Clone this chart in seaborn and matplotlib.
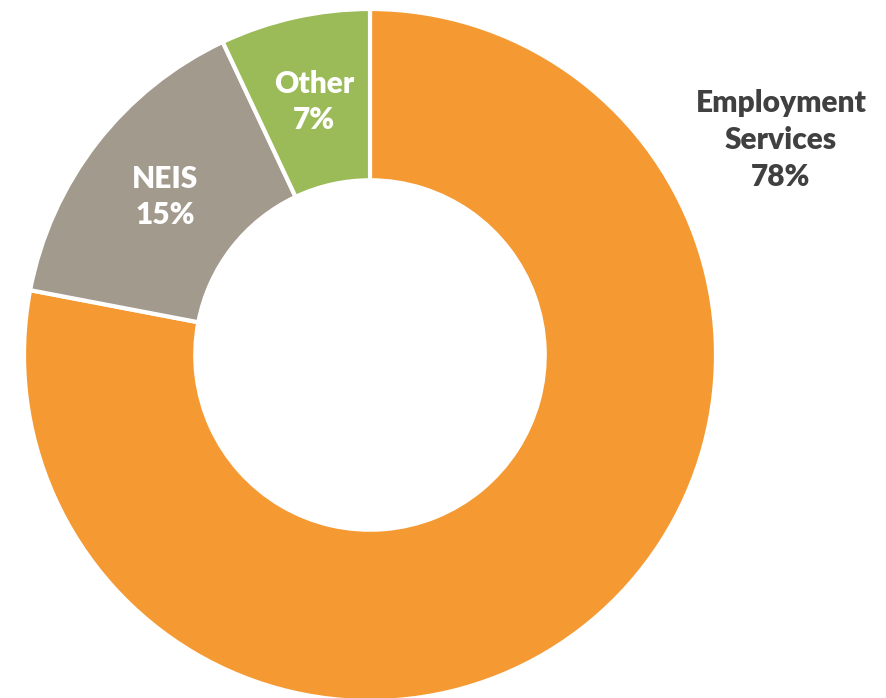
import matplotlib
matplotlib.use("Agg")
import matplotlib.pyplot as plt
import seaborn as sns

categories = ["Employment Services", "NEIS", "Other"]
values = [78, 15, 7]
label_lines = ["Employment\nServices\n78%", "NEIS\n15%", "Other\n7%"]
colors = ["#F59A33", "#A39A8E", "#9BBB59"]

sns.set_theme(style="white")
plt.rcParams["font.family"] = ["Lato", "DejaVu Sans"]

W, H = 886, 698
fig = plt.figure(figsize=(W / 100, H / 100), dpi=100)
ax = fig.add_axes([0, 0, 1, 1])
cx, cy, R = 370, H - 355, 346
wedges, _ = ax.pie(values, colors=colors, startangle=90, counterclock=False,
                   center=(cx, cy), radius=R,
                   wedgeprops=dict(width=R * 0.495, edgecolor="white", linewidth=3))
ax.set_xlim(0, W)
ax.set_ylim(0, H)
ax.set_aspect("equal")
ax.axis("off")

pos = [(781, H - 140), (165, H - 197), (314, H - 102)]
tcolors = ["#404040", "white", "white"]
for txt, (x, y), c in zip(label_lines, pos, tcolors):
    ax.text(x, y, txt, ha="center", va="center", fontsize=21.5, fontweight="heavy",
            color=c, linespacing=1.38)

fig.savefig("out.png", dpi=100)
